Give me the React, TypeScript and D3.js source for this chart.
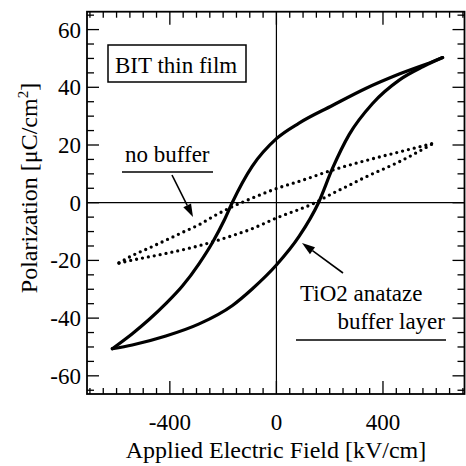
import React from "react";
import * as d3 from "d3";

// ---- data ----
const solidUpperE = [624, 586, 461, 335, 210, 85, 0, -91, -166, -196, -240, -290, -353, -415, -478, -541, -616];
const solidUpperP = [50.3, 48.9, 44.6, 39.6, 33.7, 27.6, 22.2, 12.6, 0, -6.1, -13.8, -21.1, -28.9, -35.0, -40.5, -45.4, -50.6];
const solidLowerE = [-616, -541, -415, -290, -165, -91, 0, 85, 158, 210, 273, 361, 461, 549, 624];
const solidLowerP = [-50.6, -49.3, -46.2, -42.0, -35.6, -29.9, -21.6, -11.7, 0, 11.8, 23.6, 34.4, 42.5, 47.1, 50.3];

const dotUpperE = [590, 461, 335, 210, 85, 0, -91, -166, -234, -290, -353, -415, -478, -541, -591];
const dotUpperP = [20.6, 17.6, 14.6, 11.3, 7.4, 4.9, 1.6, -1.4, -4.6, -7.6, -10.3, -13.0, -15.7, -18.3, -20.9];
const dotLowerE = [-591, -541, -415, -290, -165, -102, 0, 145, 210, 274, 335, 461, 590];
const dotLowerP = [-20.9, -19.9, -17.6, -14.9, -11.4, -9.4, -5.3, 0, 3.2, 6.1, 8.9, 14.2, 20.6];

const xTickLabels = [-400, 0, 400];
const yTickLabels = [-60, -40, -20, 0, 20, 40, 60];

const FONT = "'Liberation Serif', 'Times New Roman', serif";

export default function App() {
  const W = 466, H = 466;
  const left = 87, right = 464.5, top = 11.7, bottom = 394;
  const x = d3.scaleLinear().domain([-711, 706]).range([left, right]);
  const y = d3.scaleLinear().domain([-66.3, 66.2]).range([bottom, top]);

  const line = d3
    .line<[number, number]>()
    .x((d) => x(d[0]))
    .y((d) => y(d[1]))
    .curve(d3.curveMonotoneX);

  const zip = (a: number[], b: number[]) =>
    a.map((v, i) => [v, b[i]] as [number, number]).sort((p, q) => p[0] - q[0]);

  const xMinor = d3.range(-700, 701, 50);
  const yMinor = d3.range(-65, 66, 5);

  const arrow = (x1: number, y1: number, x2: number, y2: number) => {
    const ang = Math.atan2(y2 - y1, x2 - x1);
    const L = 13, Wd = 4.3;
    const bx = x2 - L * Math.cos(ang), by = y2 - L * Math.sin(ang);
    const px = -Math.sin(ang) * Wd, py = Math.cos(ang) * Wd;
    return (
      <g>
        <line x1={x1} y1={y1} x2={bx} y2={by} stroke="#000" strokeWidth={1.6} />
        <polygon points={`${x2},${y2} ${bx + px},${by + py} ${bx - px},${by - py}`} fill="#000" />
      </g>
    );
  };

  return (
    <div style={{ position: "absolute", left: 0, top: 0, width: W, height: H, background: "#fff" }}>
      <svg width={W} height={H} style={{ display: "block" }} fontFamily={FONT}>
        <rect x={0} y={0} width={W} height={H} fill="#fff" />
        {/* zero lines */}
        <line x1={x(0)} x2={x(0)} y1={top} y2={bottom} stroke="#000" strokeWidth={1.2} />
        <line x1={left} x2={right} y1={y(0)} y2={y(0)} stroke="#000" strokeWidth={1.2} />

        {/* ticks bottom/top */}
        {xMinor.map((v) => {
          const len = v % 400 === 0 ? 13 : 6;
          return (
            <g key={"xt" + v}>
              <line x1={x(v)} x2={x(v)} y1={bottom} y2={bottom - len} stroke="#000" strokeWidth={1.3} />
              <line x1={x(v)} x2={x(v)} y1={top} y2={top + len} stroke="#000" strokeWidth={1.3} />
            </g>
          );
        })}
        {yMinor.map((v) => {
          const len = v % 20 === 0 ? 12 : 7;
          return (
            <g key={"yt" + v}>
              <line x1={left} x2={left + len} y1={y(v)} y2={y(v)} stroke="#000" strokeWidth={1.3} />
              <line x1={right} x2={right - len} y1={y(v)} y2={y(v)} stroke="#000" strokeWidth={1.3} />
            </g>
          );
        })}
        {/* frame */}
        <rect x={left} y={top} width={right - left} height={bottom - top} fill="none" stroke="#000" strokeWidth={1.8} />

        {/* tick labels */}
        {xTickLabels.map((v) => (
          <text key={"xl" + v} x={x(v)} y={430} fontSize={23} textAnchor="middle" fill="#000">
            {String(v)}
          </text>
        ))}
        {yTickLabels.map((v) => (
          <text key={"yl" + v} x={81} y={y(v) + 8} fontSize={23} textAnchor="end" fill="#000">
            {String(v)}
          </text>
        ))}

        {/* axis titles */}
        <text x={276} y={458} fontSize={24} textAnchor="middle" fill="#000">
          Applied Electric Field [kV/cm]
        </text>
        <text transform="translate(37,188) rotate(-90)" fontSize={24} textAnchor="middle" fill="#000">
          Polarization [μC/cm
          <tspan fontSize={15} dy={-9}>2</tspan>
          <tspan dy={9}>]</tspan>
        </text>

        {/* curves */}
        <path d={line(zip(solidUpperE, solidUpperP)) || ""} fill="none" stroke="#000" strokeWidth={3.2} strokeLinejoin="round" strokeLinecap="round" />
        <path d={line(zip(solidLowerE, solidLowerP)) || ""} fill="none" stroke="#000" strokeWidth={3.2} strokeLinejoin="round" strokeLinecap="round" />
        <path d={line(zip(dotUpperE, dotUpperP)) || ""} fill="none" stroke="#000" strokeWidth={3.3} strokeDasharray="0 6" strokeLinecap="round" />
        <path d={line(zip(dotLowerE, dotLowerP)) || ""} fill="none" stroke="#000" strokeWidth={3.3} strokeDasharray="0 6" strokeLinecap="round" />

        {/* annotations */}
        <rect x={108} y={45} width={138} height={37} fill="#fff" stroke="#000" strokeWidth={1.5} />
        <text x={115} y={73} fontSize={23} fill="#000">BIT thin film</text>

        <text x={125} y={162} fontSize={23} fill="#000">no buffer</text>
        <line x1={122} x2={213} y1={172} y2={172} stroke="#000" strokeWidth={1.5} />
        {arrow(172, 175, 193, 217)}

        <text x={300} y={301} fontSize={23} fill="#000">TiO2 anataze</text>
        <text x={445} y={329} fontSize={23} textAnchor="end" fill="#000">buffer layer</text>
        <line x1={296} x2={446} y1={340} y2={340} stroke="#000" strokeWidth={1.5} />
        {arrow(343, 273, 302, 243)}
      </svg>
    </div>
  );
}
